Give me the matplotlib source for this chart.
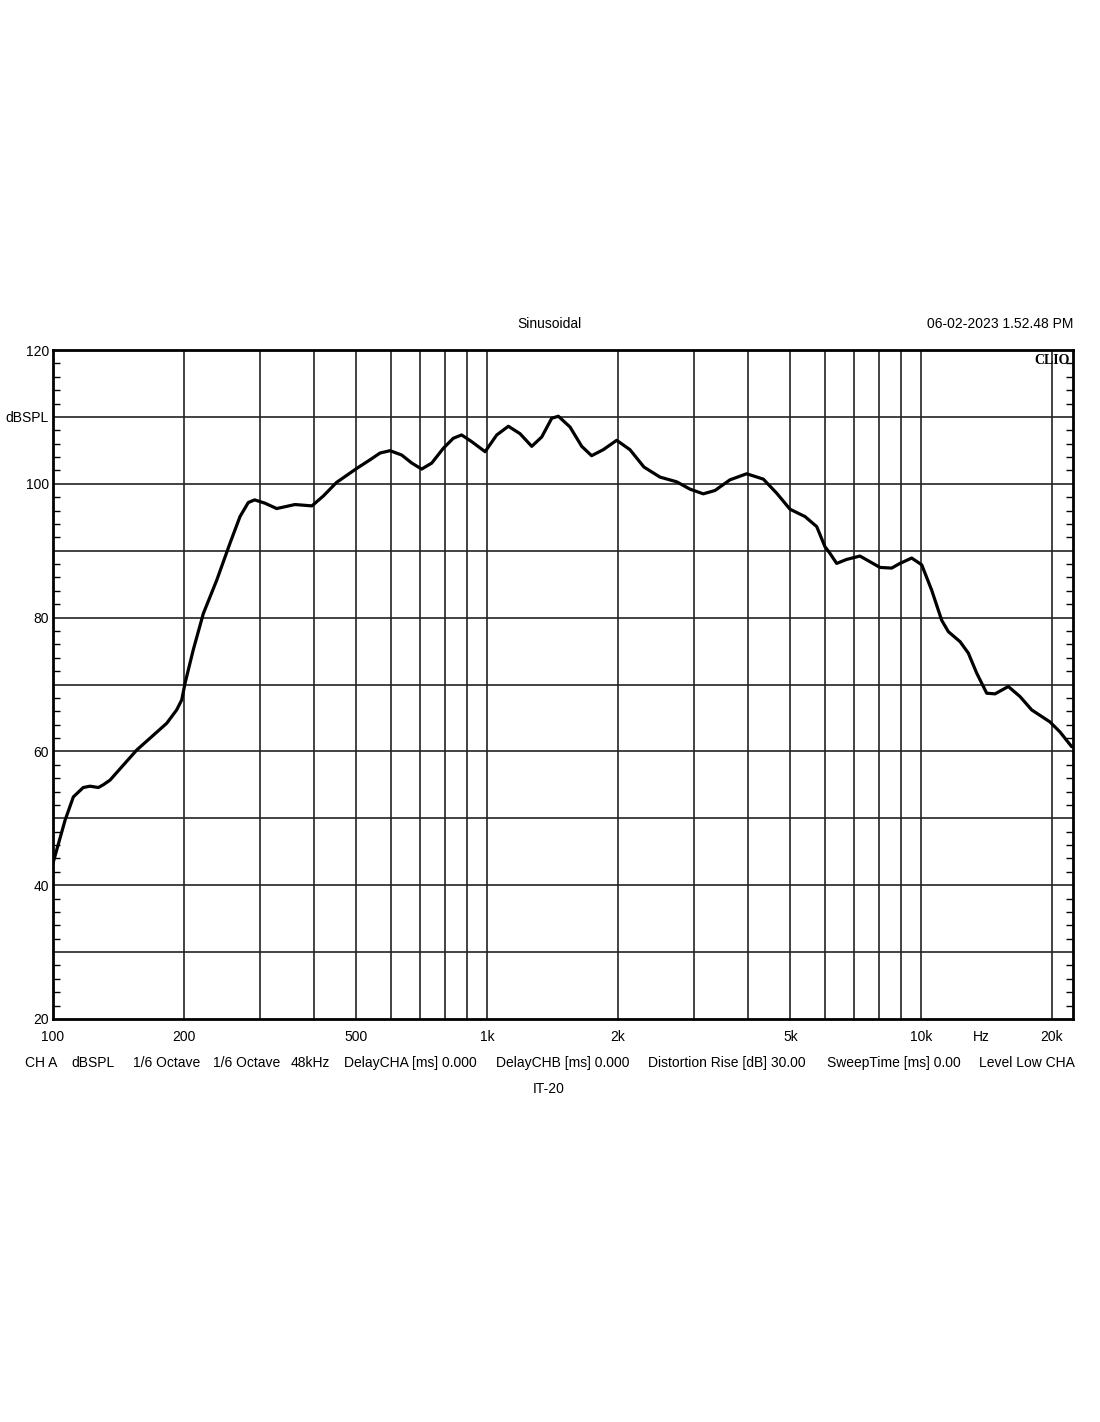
import matplotlib
matplotlib.use("Agg")
import matplotlib.pyplot as plt

# frequency response
freq_hz = [100, 106.6, 111.4, 117.4, 121.7, 127.2, 130.5, 135.3, 155.9, 182.8,
           192.7, 198, 201.5, 210.5, 222, 238.4, 255.7, 269.7, 281.8, 291.5,
           307.9, 327.6, 361, 395, 420, 450, 501, 538, 567, 598,
           636, 671, 707, 746, 793, 836, 874, 922, 990, 1053,
           1120, 1191, 1268, 1337, 1410, 1460, 1553, 1653, 1742, 1853,
           1990, 2135, 2300, 2504, 2735, 2936, 3150, 3352, 3631, 3966,
           4332, 4650, 4991, 5405, 5751, 6008, 6170, 6393, 6743, 7234,
           8045, 8558, 8945, 9517, 10037, 10583, 11161, 11561, 12303, 12854,
           13438, 14170, 14812, 15892, 16909, 17992, 19829, 20910, 22247]
spl_db = [43.3, 49.7, 53.2, 54.6, 54.8, 54.6, 55.0, 55.7, 60.2, 64.2,
          66.2, 67.7, 70.2, 75.2, 80.6, 85.6, 91.1, 95.1, 97.2, 97.6,
          97.1, 96.3, 96.9, 96.7, 98.2, 100.2, 102.3, 103.6, 104.6, 104.95,
          104.3, 103.1, 102.2, 103.1, 105.3, 106.8, 107.3, 106.3, 104.8, 107.3,
          108.6, 107.5, 105.6, 107.0, 109.8, 110.1, 108.5, 105.6, 104.2, 105.1,
          106.5, 105.1, 102.5, 101.0, 100.3, 99.2, 98.5, 99.0, 100.6, 101.5,
          100.7, 98.6, 96.2, 95.1, 93.6, 90.6, 89.6, 88.1, 88.7, 89.2,
          87.5, 87.4, 88.1, 88.9, 87.9, 84.1, 79.6, 77.9, 76.4, 74.7,
          71.7, 68.7, 68.6, 69.7, 68.2, 66.2, 64.4, 62.9, 60.7]

grid_freqs = [200, 300, 400, 500, 600, 700, 800, 900, 1000,
              2000, 3000, 4000, 5000, 6000, 7000, 8000, 9000, 10000, 20000]
x_label_freqs = [100, 200, 500, 1000, 2000, 5000, 10000, 13800, 20000]
x_labels = ["100", "200", "500", "1k", "2k", "5k", "10k", "Hz", "20k"]
y_ticks = [20, 30, 40, 50, 60, 70, 80, 90, 100, 110, 120]
y_labels = ["20", "", "40", "", "60", "", "80", "", "100", "dBSPL", "120"]

footer = ["CH A", "dBSPL", "1/6 Octave", "1/6 Octave", "48kHz",
          "DelayCHA [ms] 0.000", "DelayCHB [ms] 0.000",
          "Distortion Rise [dB] 30.00", "SweepTime [ms] 0.00", "Level Low CHA"]
footer_x = [25, 71, 133, 213, 291, 344, 496, 648, 827, 979]

plt.rcParams["font.family"] = ["Liberation Sans", "DejaVu Sans"]
FS = 10

W, H = 1100, 1422
fig = plt.figure(figsize=(W / 100, H / 100), dpi=100)
ax = fig.add_axes([53 / W, (H - 1019) / H, 1020 / W, 669 / H])

ax.set_xscale("log")
ax.set_xlim(100, 22400)
ax.set_ylim(20, 120)

ax.plot(freq_hz, spl_db, color="black", lw=2.3, solid_joinstyle="round",
        solid_capstyle="round", zorder=3)

# grid
ax.set_xticks(x_label_freqs)
ax.set_xticklabels(x_labels, fontsize=FS)
ax.set_xticks([], minor=True)
ax.tick_params(axis="x", which="both", length=0, pad=8)
for f in grid_freqs:
    ax.axvline(f, color="#222222", lw=1.2, zorder=1)
ax.set_yticks(y_ticks)
ax.set_yticklabels(y_labels, fontsize=FS)
ax.set_yticks(range(20, 121, 2), minor=True)
for y in y_ticks[1:-1]:
    ax.axhline(y, color="#222222", lw=1.2, zorder=1)
ax.tick_params(axis="y", which="major", length=0, pad=3)
ax.tick_params(axis="y", which="minor", direction="in", length=5, width=1,
               left=True, right=True)

for s in ax.spines.values():
    s.set_linewidth(2)

ax.text(0.997, 0.994, "CLIO", transform=ax.transAxes, ha="right", va="top",
        fontsize=10, fontweight="bold", family=["Liberation Serif", "DejaVu Serif"])

fig.text(549 / W, 1 - 324 / H, "Sinusoidal", ha="center", va="center", fontsize=FS)
fig.text(1073 / W, 1 - 324 / H, "06-02-2023 1.52.48 PM", ha="right", va="center",
         fontsize=FS)
for x, t in zip(footer_x, footer):
    fig.text(x / W, 1 - 1063 / H, t, ha="left", va="center", fontsize=FS)
fig.text(549 / W, 1 - 1089 / H, "IT-20", ha="center", va="center", fontsize=FS)

fig.savefig("out.png", dpi=100, facecolor="white")
